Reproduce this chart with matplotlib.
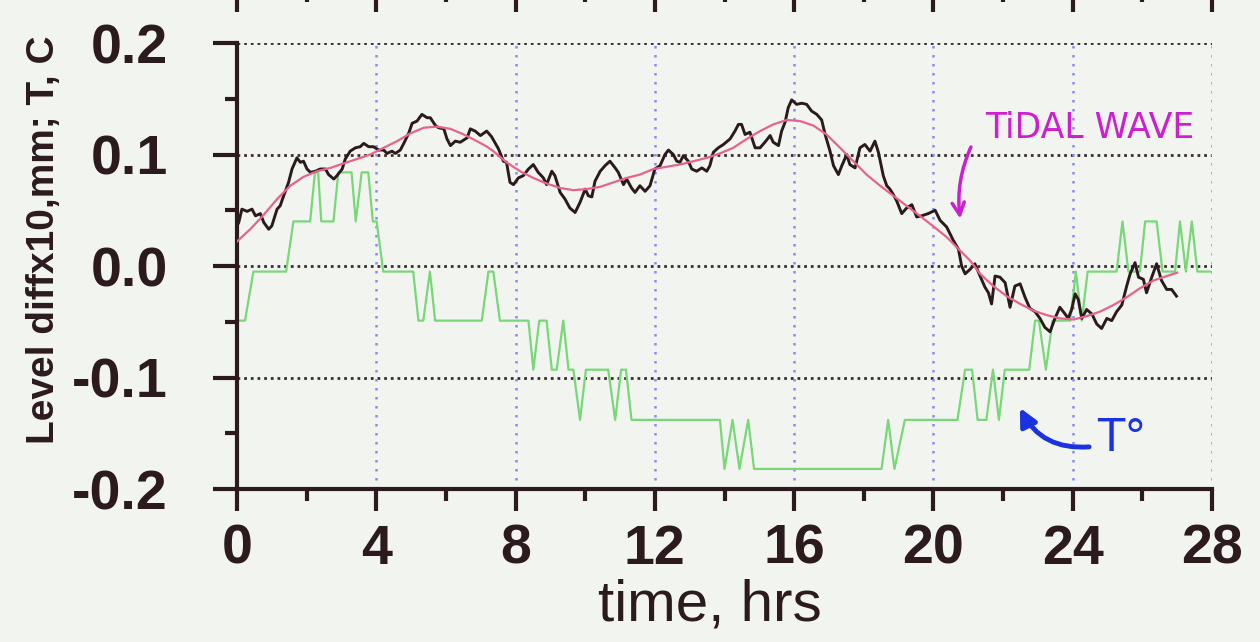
import matplotlib
matplotlib.use("Agg")
import matplotlib.pyplot as plt
from matplotlib.ticker import MultipleLocator, FormatStrFormatter

plt.rcParams['axes.unicode_minus'] = False
plt.rcParams['font.family'] = ['Liberation Sans', 'DejaVu Sans']

# level difference (x10, mm), measured
level_t = [0.0, 0.05, 0.14, 0.29, 0.43, 0.53, 0.67, 0.77, 0.91, 1.0, 1.15, 1.24, 1.34, 1.48, 1.58,
           1.72, 1.82, 1.91, 2.01, 2.11, 2.25, 2.39, 2.54, 2.63, 2.78, 2.87, 3.02, 3.11, 3.25,
           3.40, 3.54, 3.64, 3.78, 3.92, 4.07, 4.21, 4.31, 4.45, 4.55, 4.69, 4.79, 4.93, 5.03,
           5.17, 5.31, 5.46, 5.55, 5.70, 5.79, 5.94, 6.03, 6.13, 6.27, 6.41, 6.61, 6.70, 6.84,
           6.99, 7.17, 7.31, 7.51, 7.65, 7.74, 7.84, 7.94, 8.08, 8.22, 8.37, 8.51, 8.65, 8.80,
           8.89, 9.04, 9.13, 9.28, 9.42, 9.56, 9.71, 9.85, 10.0, 10.09, 10.19, 10.28, 10.43,
           10.57, 10.71, 10.86, 10.95, 11.1, 11.19, 11.33, 11.43, 11.57, 11.72, 11.86, 12.0,
           12.15, 12.29, 12.39, 12.53, 12.63, 12.72, 12.82, 12.96, 13.06, 13.2, 13.35, 13.49,
           13.58, 13.68, 13.82, 13.97, 14.16, 14.30, 14.40, 14.49, 14.59, 14.73, 14.88, 15.02,
           15.16, 15.31, 15.40, 15.55, 15.64, 15.74, 15.83, 15.93, 16.07, 16.22, 16.36, 16.5,
           16.65, 16.79, 16.89, 17.03, 17.13, 17.27, 17.37, 17.51, 17.6, 17.75, 17.89, 18.03,
           18.18, 18.32, 18.42, 18.56, 18.66, 18.75, 18.85, 18.95, 19.09, 19.23, 19.38, 19.52,
           19.66, 19.85, 20.05, 20.19, 20.38, 20.57, 20.72, 20.81, 20.91, 21.05, 21.19, 21.34,
           21.48, 21.58, 21.67, 21.77, 21.91, 22.06, 22.2, 22.34, 22.49, 22.63, 22.77, 22.92,
           23.06, 23.2, 23.35, 23.49, 23.63, 23.78, 23.87, 23.97, 24.07, 24.16, 24.26, 24.4,
           24.55, 24.69, 24.83, 24.98, 25.12, 25.26, 25.41, 25.55, 25.65, 25.79, 25.89, 26.03,
           26.12, 26.27, 26.41, 26.55, 26.7, 26.84, 26.98]
level = [0.036, 0.039, 0.051, 0.049, 0.051, 0.045, 0.047, 0.039, 0.033, 0.036, 0.051, 0.054, 0.063,
         0.075, 0.087, 0.097, 0.093, 0.094, 0.087, 0.084, 0.085, 0.087, 0.087, 0.082, 0.078,
         0.081, 0.087, 0.096, 0.103, 0.106, 0.107, 0.110, 0.107, 0.107, 0.104, 0.104, 0.101,
         0.103, 0.101, 0.104, 0.110, 0.119, 0.128, 0.130, 0.136, 0.133, 0.133, 0.126, 0.124,
         0.123, 0.114, 0.108, 0.112, 0.111, 0.115, 0.123, 0.121, 0.117, 0.121, 0.116, 0.105,
         0.094, 0.093, 0.075, 0.073, 0.079, 0.081, 0.087, 0.091, 0.084, 0.079, 0.073, 0.085,
         0.081, 0.066, 0.060, 0.052, 0.048, 0.057, 0.069, 0.063, 0.062, 0.076, 0.085, 0.090,
         0.094, 0.088, 0.084, 0.073, 0.078, 0.070, 0.066, 0.072, 0.067, 0.072, 0.087, 0.090,
         0.100, 0.104, 0.100, 0.094, 0.093, 0.099, 0.094, 0.087, 0.085, 0.088, 0.085, 0.090,
         0.102, 0.106, 0.109, 0.114, 0.121, 0.127, 0.127, 0.118, 0.120, 0.106, 0.106, 0.111,
         0.117, 0.111, 0.108, 0.121, 0.129, 0.142, 0.149, 0.145, 0.146, 0.145, 0.139, 0.136,
         0.131, 0.118, 0.103, 0.090, 0.082, 0.090, 0.100, 0.091, 0.088, 0.106, 0.109, 0.103,
         0.112, 0.102, 0.081, 0.072, 0.069, 0.064, 0.058, 0.047, 0.052, 0.055, 0.044, 0.045,
         0.047, 0.050, 0.041, 0.035, 0.023, 0.015, 0.0, -0.007, -0.003, 0.002, -0.009, -0.019,
         -0.024, -0.034, -0.009, -0.010, -0.015, -0.037, -0.018, -0.016, -0.028, -0.038, -0.041,
         -0.047, -0.055, -0.059, -0.047, -0.037, -0.043, -0.047, -0.039, -0.025, -0.030, -0.047,
         -0.039, -0.043, -0.052, -0.056, -0.047, -0.049, -0.041, -0.035, -0.018, -0.007, 0.003,
         -0.010, -0.012, -0.024, -0.010, 0.002, -0.013, -0.021, -0.021, -0.027]

# tidal wave fit
tide_t = [0.0, 0.38, 0.77, 1.15, 1.53, 1.91, 2.30, 2.68, 3.06, 3.45, 3.83, 4.21, 4.60, 4.98,
          5.36, 5.74, 6.13, 6.51, 6.89, 7.18, 7.36, 7.74, 8.13, 8.51, 8.89, 9.28, 9.66, 10.04,
          10.43, 10.81, 11.19, 11.57, 11.96, 12.34, 12.72, 13.11, 13.49, 13.87, 14.25, 14.64,
          15.02, 15.40, 15.79, 16.17, 16.55, 16.93, 17.32, 17.70, 18.08, 18.47, 18.85, 19.23,
          19.61, 19.98, 20.38, 20.76, 21.05, 21.34, 21.72, 22.1, 22.49, 22.87, 23.25, 23.64,
          24.02, 24.4, 24.78, 25.17, 25.55, 25.93, 26.32, 26.7, 27.0]
tide = [0.022, 0.033, 0.046, 0.060, 0.072, 0.080, 0.085, 0.088, 0.092, 0.096, 0.100, 0.106,
        0.112, 0.119, 0.124, 0.125, 0.123, 0.118, 0.112, 0.107, 0.103, 0.093, 0.085, 0.079,
        0.074, 0.070, 0.068, 0.069, 0.071, 0.075, 0.079, 0.082, 0.087, 0.089, 0.091, 0.094,
        0.097, 0.101, 0.106, 0.114, 0.121, 0.127, 0.131, 0.130, 0.126, 0.118, 0.106, 0.094,
        0.082, 0.072, 0.063, 0.054, 0.045, 0.036, 0.026, 0.014, 0.005, -0.007, -0.018, -0.027,
        -0.034, -0.040, -0.044, -0.047, -0.048, -0.045, -0.041, -0.035, -0.028, -0.020, -0.013,
        -0.009, -0.006]

# temperature, T (C)
temp_t = [0.05, 0.23, 0.47, 1.41, 1.62, 2.10, 2.24, 2.33, 2.42, 2.77, 2.91, 3.29, 3.41, 3.58,
          3.77, 3.90, 4.01, 4.2, 5.06, 5.21, 5.35, 5.54, 5.69, 7.03, 7.22, 7.36, 7.55, 8.37,
          8.51, 8.68, 8.89, 9.04, 9.18, 9.37, 9.52, 9.66, 9.85, 10.02, 10.66, 10.86, 11.03,
          11.17, 11.33, 13.87, 14.0, 14.23, 14.43, 14.68, 14.85, 18.51, 18.70, 18.88, 19.18,
          20.69, 20.91, 21.11, 21.27, 21.52, 21.71, 21.88, 22.05, 22.75, 22.92, 23.03, 23.23,
          23.42, 23.93, 24.09, 24.26, 24.43, 25.26, 25.43, 25.6, 25.93, 26.08, 26.41, 26.58,
          26.94, 27.08, 27.25, 27.42, 27.58, 27.94]
temp = [-0.049, -0.049, -0.005, -0.005, 0.040, 0.040, 0.084, 0.084, 0.040, 0.040, 0.084, 0.084,
        0.040, 0.084, 0.084, 0.040, 0.040, -0.005, -0.005, -0.049, -0.049, -0.005, -0.049,
        -0.049, -0.005, -0.005, -0.049, -0.049, -0.093, -0.049, -0.049, -0.093, -0.093,
        -0.049, -0.093, -0.093, -0.138, -0.093, -0.093, -0.138, -0.093, -0.093, -0.138,
        -0.138, -0.182, -0.138, -0.182, -0.138, -0.182, -0.182, -0.138, -0.182, -0.138,
        -0.138, -0.093, -0.093, -0.138, -0.138, -0.093, -0.138, -0.093, -0.093, -0.049,
        -0.049, -0.093, -0.049, -0.049, -0.005, -0.049, -0.005, -0.005, 0.040, -0.005,
        -0.005, 0.040, 0.040, -0.005, -0.005, 0.040, -0.005, 0.040, -0.005, -0.005]

x_ticks = [0, 4, 8, 12, 16, 20, 24, 28]
y_ticks = [-0.2, -0.1, 0.0, 0.1, 0.2]

ink = '#2b1b1e'
paper = '#f2f4f0'

fig = plt.figure(figsize=(12.6, 6.42), dpi=100, facecolor=paper)
ax = fig.add_axes([0.1881, 0.2383, 0.7738, 0.6947], facecolor=paper)

ax.set_xlim(0, 28)
ax.set_ylim(-0.2, 0.2)

# dotted grid
ax.hlines([0.2, 0.1, 0.0, -0.1], 0, 28, colors='#3b2e30', linewidth=2.0,
          linestyles=(0, (1, 1.4)), zorder=1)
ax.vlines(x_ticks[1:], -0.2, 0.2, colors='#8a8af2', linewidth=1.8,
          linestyles=(0, (1, 2.6)), zorder=1)

ax.plot(temp_t, temp, color='#78d878', linewidth=1.6, zorder=2)
ax.plot(level_t, level, color='#2a1a1c', linewidth=2.1, zorder=3)
ax.plot(tide_t, tide, color='#e8638c', linewidth=1.6, zorder=4)

for side in ('top', 'right'):
    ax.spines[side].set_visible(False)
for side in ('left', 'bottom'):
    ax.spines[side].set_linewidth(3)
    ax.spines[side].set_color(ink)

ax.set_xticks(x_ticks)
ax.xaxis.set_minor_locator(MultipleLocator(2))
ax.set_yticks(y_ticks)
ax.yaxis.set_minor_locator(MultipleLocator(0.05))
ax.yaxis.set_major_formatter(FormatStrFormatter('%.1f'))
ax.tick_params(axis='x', which='major', length=16, width=3, color=ink, pad=9,
               labelsize=40, labelcolor=ink)
ax.tick_params(axis='x', which='minor', length=8.5, width=3, color=ink)
ax.tick_params(axis='y', which='major', length=17, width=3, color=ink, pad=33,
               labelsize=40, labelcolor=ink)
ax.tick_params(axis='y', which='minor', length=9, width=3, color=ink)
for lbl in ax.get_xticklabels() + ax.get_yticklabels():
    lbl.set_fontweight('bold')

ax.set_xlabel('time, hrs', fontsize=42, color=ink, labelpad=2)
ax.xaxis.label.set_x(0.485)
ax.set_ylabel('Level diffx10,mm; T, C', fontsize=28, fontweight='bold', color=ink)
ax.yaxis.set_label_coords(-0.18, 0.558)

# handwritten notes
ax.text(24.5, 0.124, 'TiDAL WAVE', color='#cc1fd0', fontsize=25,
        family='DejaVu Sans', ha='center', va='center')
ax.annotate('', xy=(20.78, 0.040), xytext=(21.11, 0.109),
            arrowprops=dict(arrowstyle='->', color='#cc1fd0', lw=2.5,
                            connectionstyle='arc3,rad=0.15', mutation_scale=22))
ax.text(25.4, -0.155, 'T°', color='#1a32e0', fontsize=32,
        family='DejaVu Sans', ha='center', va='center')
ax.annotate('', xy=(22.45, -0.125), xytext=(24.55, -0.162),
            arrowprops=dict(arrowstyle='-|>', color='#1a32e0', lw=3.5,
                            connectionstyle='arc3,rad=-0.35', mutation_scale=26))

# tick marks of the panel above, cut off at the top edge
top = fig.add_axes([0.1881, 1 + 10 / 642, 0.7738, 0.05])
top.set_xlim(0, 28)
top.set_xticks(x_ticks)
top.xaxis.set_minor_locator(MultipleLocator(2))
top.set_yticks([])
top.tick_params(axis='x', which='major', length=16, width=3, color=ink, labelbottom=False)
top.tick_params(axis='x', which='minor', length=8.5, width=3, color=ink)
for s in top.spines.values():
    s.set_visible(False)
top.patch.set_visible(False)

fig.savefig('out.png', dpi=100, facecolor=paper)
